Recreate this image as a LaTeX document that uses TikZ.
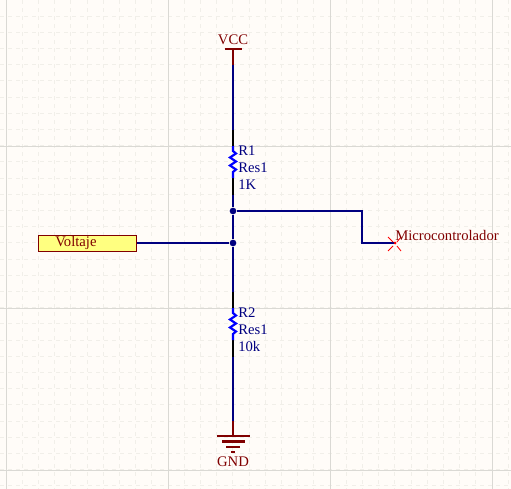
\documentclass[tikz,border=0pt]{standalone}
\usepackage{fontspec}
\setmainfont{Liberation Serif}
\definecolor{paper}{HTML}{FFFCF8}
\definecolor{minorgrid}{HTML}{F1EFE9}
\definecolor{majorgrid}{HTML}{DAD9D4}
\definecolor{wire}{HTML}{000080}
\definecolor{pinblack}{HTML}{000000}
\definecolor{powerred}{HTML}{800000}
\definecolor{resblue}{HTML}{0000FF}
\definecolor{portfill}{HTML}{FFFF80}
\tikzset{
  x=0.75pt,y=-0.75pt,
  wireline/.style={draw=wire,line width=1.9pt,line join=miter},
  pinline/.style={draw=pinblack,line width=1.9pt},
  powerline/.style={draw=powerred,line width=1.9pt},
  resline/.style={draw=resblue,line width=1.6pt,line join=miter},
  dotjunction/.style={circle,fill=wire,inner sep=0pt,minimum size=5pt},
  redtext/.style={text=powerred,font=\fontsize{11}{12}\selectfont,inner sep=0pt},
  bluetext/.style={text=wire,font=\fontsize{11}{12}\selectfont,inner sep=0pt,anchor=west},
  portbox/.style={draw=powerred,fill=portfill,line width=0.75pt,minimum width=74pt,minimum height=12pt,inner sep=0pt},
}
\begin{document}
\begin{tikzpicture}
\useasboundingbox (0,0) rectangle (511,489);
\fill[paper] (0,0) rectangle (511,489);
% minor grid
\foreach \k in {0,...,31}{
  \draw[minorgrid,line width=0.75pt,dash pattern=on 3pt off 3pt] ({6+16.2*\k},0) -- ({6+16.2*\k},489);
}
\foreach \k in {0,...,30}{
  \draw[minorgrid,line width=0.75pt,dash pattern=on 3pt off 3pt] (0,{-0.2+16.2*\k}) -- (511,{-0.2+16.2*\k});
}
% major grid
\foreach \p in {6,168,330,492}{\draw[majorgrid,line width=0.75pt] (\p,0) -- (\p,489);}
\foreach \p in {146,308,470}{\draw[majorgrid,line width=0.75pt] (0,\p) -- (511,\p);}
% named points
\coordinate (vccbar) at (233,49);
\coordinate (vccpin) at (233,65);
\coordinate (r1a) at (233,130);
\coordinate (r1b) at (233,146);
\coordinate (r1c) at (233,178);
\coordinate (r1d) at (233,195);
\coordinate (r2a) at (233,292);
\coordinate (r2b) at (233,308);
\coordinate (r2c) at (233,340);
\coordinate (r2d) at (233,357);
\coordinate (gndpin) at (233,421);
\coordinate (gndbar) at (233,436);
\coordinate (bend1) at (362,211);
\coordinate (bend2) at (362,243);
\node[dotjunction] (j1) at (233,211) {};
\node[dotjunction] (j2) at (233,243) {};
\coordinate (mcu) at (395,243);
\node[portbox] (volt) at (87.5,243) {};
\node[redtext,anchor=west] at (55,243) {Voltaje};
% wires
\draw[wireline] (vccpin) -- (r1a);
\draw[wireline] (r1d) -- (j1);
\draw[wireline] (j1) -- (j2);
\draw[wireline] (j2) -- (r2a);
\draw[wireline] (r2d) -- (gndpin);
\draw[wireline] (volt.east) -- (j2);
\draw[wireline] (j1) -- (bend1) -- (bend2) -- (mcu);
% resistors
\draw[pinline] (r1a) -- (r1b);
\draw[pinline] (r1c) -- (r1d);
\draw[pinline] (r2a) -- (r2b);
\draw[pinline] (r2c) -- (r2d);
\draw[resline] (r1b) -- ++(0,5) -- ++(3,2.5) -- ++(-6,4) -- ++(6,4) -- ++(-6,4) -- ++(6,4) -- ++(-3,2.5) -- (r1c);
\draw[resline] (r2b) -- ++(0,5) -- ++(3,2.5) -- ++(-6,4) -- ++(6,4) -- ++(-6,4) -- ++(6,4) -- ++(-3,2.5) -- (r2c);
% power
\draw[powerline] (vccbar) -- (vccpin);
\draw[powerline] (225,49) -- (242,49);
\node[redtext] (vcc) at (233,40) {VCC};
\draw[powerline] (gndpin) -- (gndbar);
\draw[powerline] (217,436) -- (250,436);
\draw[powerline] (222,441.5) -- (245,441.5);
\draw[powerline] (226,447) -- (240,447);
\draw[powerline] (231,452) -- (235,452);
\node[redtext] (gnd) at (233,462) {GND};
% no-connect cross
\draw[red,line width=0.6pt] (388,237) -- (393,242) (397,246) -- (401,251) (388,251) -- (393,246) (397,242) -- (401,237);
\fill[red] (395,243) circle (1.5);
\node[redtext,anchor=west] (mcutext) at (395,235) {Microcontrolador};
% labels
\node[bluetext] (r1n) at (238,151) {R1};
\node[bluetext] (r1v) at (238,168) {Res1};
\node[bluetext] (r1k) at (238,185) {1K};
\node[bluetext] (r2n) at (238,313) {R2};
\node[bluetext] (r2v) at (238,330) {Res1};
\node[bluetext] (r2k) at (238,346) {10k};
\end{tikzpicture}
\end{document}
